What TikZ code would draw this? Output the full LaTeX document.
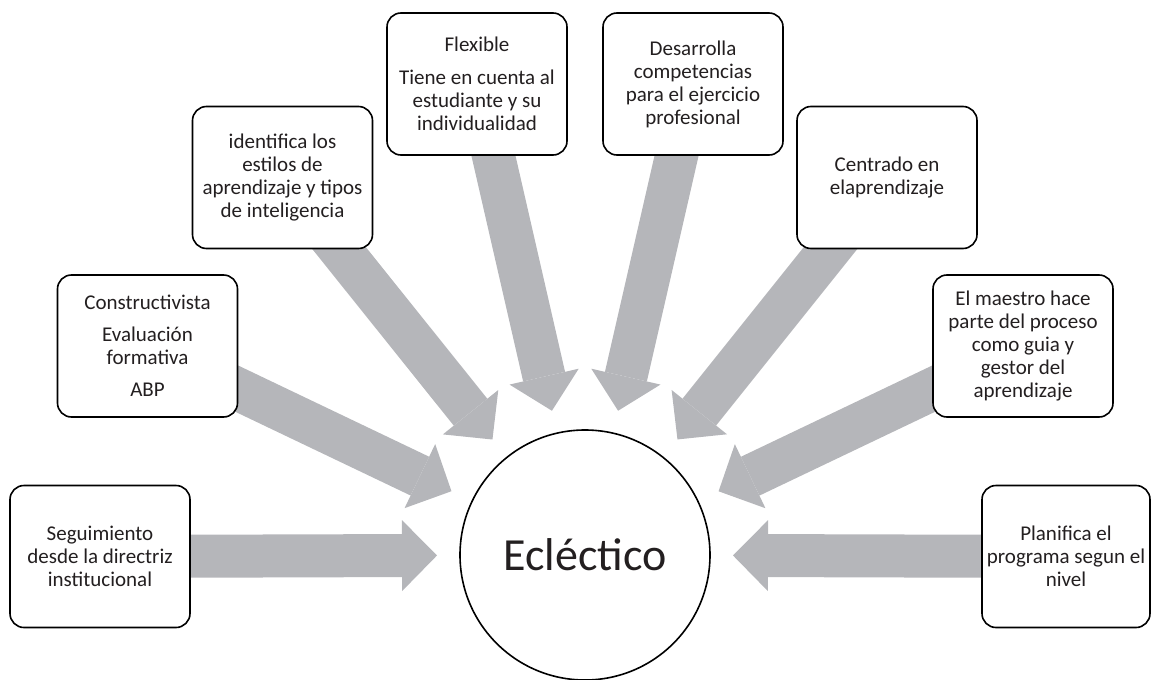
\documentclass[tikz,border=0pt]{standalone}
\usepackage{fontspec}
\setmainfont{Carlito}
\usepackage{tikz}
\usetikzlibrary{arrows.meta,backgrounds}
\definecolor{arrgray}{RGB}{181,182,186}
\definecolor{txtgray}{RGB}{35,31,32}

\begin{document}
\begin{tikzpicture}[x=1pt,y=-1pt,
    box/.style={draw, line width=1.6pt, rounded corners=14pt, fill=white,
        minimum width=180pt, minimum height=142pt, align=center, inner sep=4pt,
        font=\fontsize{21}{23}\selectfont, text=txtgray},
    hub/.style={draw, circle, line width=1.6pt, minimum size=250pt, inner sep=0pt,
        outer sep=0pt, fill=white, font=\fontsize{46}{50}\selectfont, text=txtgray},
    feed/.style={arrgray, line width=43pt,
        -{Triangle[length=35pt,width=71pt,line width=0pt]}, shorten >=23pt}]
    \useasboundingbox (0,0) rectangle (1152,680);

    \node[hub] (ecl) at (585,555) {Ecléctico};

    \node[box] (seg) at (100,556.5) {Seguimiento\\desde la directriz\\institucional};
    \node[box] (cons) at (147.5,346) {Constructivista\\[9pt]Evaluación\\formativa\\[9pt]ABP};
    \node[box] (ident) at (282.5,177.5) {identifica los\\estilos de\\aprendizaje y tipos\\de inteligencia};
    \node[box] (flex) at (477,84) {Flexible\\[10pt]Tiene en cuenta al\\estudiante y su\\individualidad};
    \node[box] (desa) at (693,84) {Desarrolla\\competencias\\para el ejercicio\\profesional};
    \node[box] (cent) at (887,177.5) {Centrado en\\elaprendizaje};
    \node[box] (maes) at (1023,346) {El maestro hace\\parte del proceso\\como guia y\\gestor del\\aprendizaje};
    \node[box, minimum width=168pt] (plan) at (1066,556.5) {Planifica el\\programa segun el\\nivel};

    % block arrows into the hub
    \begin{scope}[on background layer]
        \foreach \b in {seg,cons,ident,flex,desa,cent,maes,plan}
            \draw[feed] (\b.center) -- (ecl);
    \end{scope}
\end{tikzpicture}
\end{document}
